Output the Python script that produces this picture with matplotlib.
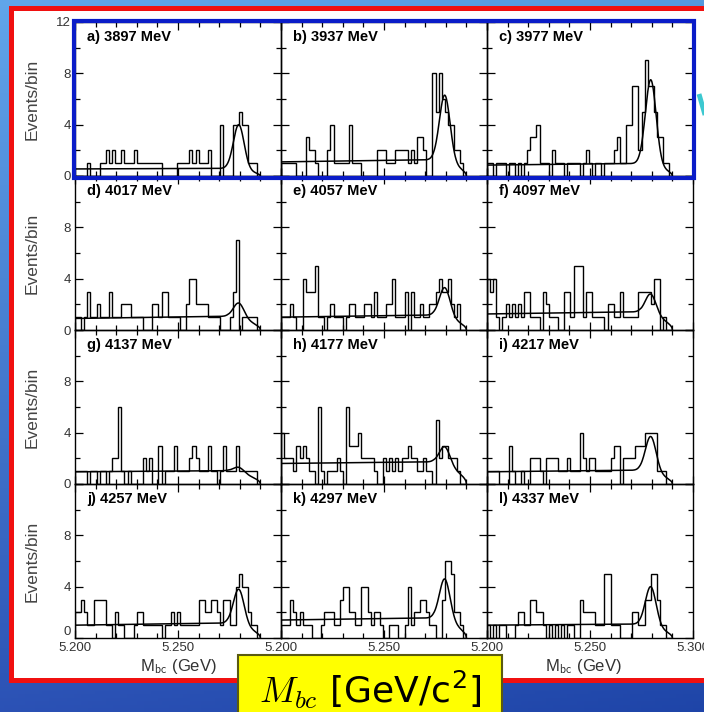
import numpy as np
import matplotlib
matplotlib.use('Agg')
import matplotlib.pyplot as plt
from matplotlib.patches import Rectangle

plt.rcParams['mathtext.fontset'] = 'cm'

W, H = 704, 712

letters = list('abcdefghijkl')
energies = [3897, 3937, 3977, 4017, 4057, 4097, 4137, 4177, 4217, 4257, 4297, 4337]

# 60 bins of 1.5 MeV from 5.200 to 5.290 GeV
counts_a = [0,0,0,0,1,0,0,0,1,1, 2,1,2,1,1,2,1,1,1,2, 1,1,1,1,1,1,1,1,0,0, 0,0,0,1,1,1,1,2,1,2, 1,1,1,2,0,0,0,4,0,0, 0,4,4,5,4,4,1,1,1,0]
counts_b = [1,1,1,1,1,0,0,0,3,2, 2,1,0,0,0,2,4,1,1,1, 1,1,4,1,1,1,0,0,0,0, 0,2,2,2,1,1,1,2,2,2, 2,1,2,1,3,3,2,0,0,8, 5,8,6,5,4,4,2,2,1,0]
counts_c = [1,1,0,1,1,1,0,1,1,0, 1,0,1,2,3,3,4,1,1,1, 0,2,1,1,1,0,1,1,1,1, 0,1,2,1,0,1,1,0,1,1, 1,2,3,1,1,4,4,7,7,2, 5,9,7,7,5,3,3,1,1,0]
counts_d = [1,1,0,1,3,1,1,2,1,1, 1,3,1,1,1,2,2,2,1,1, 1,1,0,0,0,2,2,1,3,3, 1,1,1,1,0,0,2,4,4,2, 2,2,2,1,1,1,1,0,0,0, 1,3,7,0,1,1,1,1,1,0]
counts_e = [1,1,1,2,1,0,0,4,3,3, 3,5,1,1,0,1,2,1,1,1, 0,1,2,2,1,1,1,2,2,1, 3,1,1,1,2,2,4,1,1,1, 3,0,3,1,1,2,1,1,2,2, 3,4,3,3,4,2,1,2,0,0]
counts_f = [4,3,4,1,0,1,2,1,2,1, 2,1,3,3,1,1,1,0,3,2, 1,1,1,0,0,3,3,1,5,5, 5,1,3,3,1,1,1,1,0,2, 2,1,1,3,1,1,1,1,1,3, 3,3,3,2,4,4,0,1,0,0]
counts_g = [1,1,1,1,0,1,1,0,1,1, 0,1,2,2,6,1,0,1,0,0, 0,0,2,1,2,0,0,3,0,1, 1,1,3,1,1,1,1,2,3,2, 1,1,1,3,1,1,0,1,3,1, 1,1,3,1,1,1,1,1,1,0]
counts_h = [4,2,2,2,1,3,2,3,2,1, 1,0,6,1,0,1,1,1,2,1, 0,6,3,3,3,4,2,2,2,2, 1,0,0,2,1,2,1,2,1,2, 2,3,2,2,1,1,2,1,1,0, 5,2,3,3,2,2,2,1,0,0]
counts_i = [1,1,1,1,0,0,0,3,1,0, 0,1,0,0,2,2,2,1,0,2, 2,2,2,1,1,1,2,1,1,1, 4,2,1,2,2,1,1,1,1,1, 2,3,3,0,2,2,2,2,3,3, 3,4,4,4,4,1,1,1,0,0]
counts_j = [2,2,3,2,1,1,3,3,3,3, 1,1,0,2,1,1,0,0,0,1, 2,2,1,1,1,1,1,1,0,1, 1,2,1,2,1,1,1,1,1,1, 3,3,2,2,3,3,2,1,3,3, 1,1,4,5,4,4,2,1,1,0]
counts_k = [1,1,1,3,2,1,2,1,1,1, 0,0,0,1,2,2,2,1,1,3, 4,4,2,2,1,1,4,4,2,1, 2,2,1,0,0,1,1,1,0,0, 1,4,1,2,2,3,3,2,1,1, 0,0,3,6,6,5,2,2,1,0]
counts_l = [1,0,1,0,1,1,0,0,0,1, 2,2,1,1,3,3,2,2,1,0, 1,0,1,0,1,0,1,1,0,0, 3,2,2,2,2,1,1,1,5,5, 1,1,1,0,0,0,0,2,2,1, 1,3,3,5,5,3,1,1,0,0]
counts = [counts_a, counts_b, counts_c, counts_d, counts_e, counts_f,
          counts_g, counts_h, counts_i, counts_j, counts_k, counts_l]

# fit: background level at left, its rise, peak top
bkg_level = [0.55, 1.1, 0.85, 0.9, 1.0, 1.25, 0.95, 1.6, 0.95, 1.0, 1.4, 1.0]
bkg_rise = [0.05, 0.2, 0.15, 0.2, 0.2, 0.2, 0.1, 0.15, 0.15, 0.2, 0.2, 0.1]
peak_top = [4.0, 6.3, 7.5, 2.1, 3.3, 2.8, 1.3, 2.9, 3.7, 3.8, 4.6, 4.0]

E_beam = 5.29
m_b = 5.2795
sigma = 0.0026


def fit_curve(x, level, rise, top):
    def bkg(v):
        u = np.clip(1 - (v / E_beam) ** 2, 0, None)
        u0 = 1 - (5.274 / E_beam) ** 2
        return (level + rise * (v - 5.2) / 0.09) * np.minimum(1, np.sqrt(u / u0))
    amp = top - bkg(m_b)
    return bkg(x) + amp * np.exp(-0.5 * ((x - m_b) / sigma) ** 2)


fig = plt.figure(figsize=(W / 100, H / 100), dpi=100)


def px_axes(left, top, w, h, **kw):
    return fig.add_axes([left / W, 1 - (top + h) / H, w / W, h / H], **kw)


# slide background
bg = px_axes(0, 0, W, H)
bg.set_xlim(0, W)
bg.set_ylim(H, 0)
bg.axis('off')
yy, xx = np.mgrid[0:1:200j, 0:1:200j]
c_top = np.array([0.33, 0.60, 0.87])
c_bot = np.array([0.12, 0.27, 0.66])
img = c_top * (1 - yy)[..., None] + c_bot * yy[..., None]
img = img + 0.05 * (1 - xx)[..., None]
bg.imshow(np.clip(img, 0, 1), extent=[0, W, H, 0], aspect='auto', zorder=0)
bg.add_patch(Rectangle((10.5, 7.5), 760, 672, fc='white', ec='#f01010', lw=3.6, zorder=1))

edges = np.linspace(5.200, 5.290, 61)
xf = np.linspace(5.200, 5.290, 400)
tick_color = '#333333'

for k in range(12):
    r, c = divmod(k, 3)
    ax = px_axes(75 + 206 * c, 22 + 154 * r, 206, 154)
    ax.set_facecolor('none')
    ax.stairs(counts[k], edges, color='black', lw=1.0)
    ax.plot(xf, fit_curve(xf, bkg_level[k], bkg_rise[k], peak_top[k]), color='black', lw=1.1)
    ax.set_xlim(5.2, 5.3)
    ax.set_ylim(0, 12)
    ax.set_xticks([5.2, 5.25, 5.3])
    ax.set_xticks(np.arange(5.2, 5.3001, 0.01), minor=True)
    ax.set_yticks([0, 4, 8, 12])
    ax.set_yticks([2, 6, 10], minor=True)
    ax.tick_params(which='both', direction='in', top=True, right=True,
                   labelsize=9.5, labelcolor=tick_color, pad=3)
    ax.tick_params(which='major', length=6, width=0.9)
    ax.tick_params(which='minor', length=3.5, width=0.9)
    for s in ax.spines.values():
        s.set_linewidth(1.0)
    if c == 0:
        ylabs = ax.set_yticklabels(['0', '4', '8', '12' if r == 0 else ''], family='Liberation Sans')
        if r == 3:
            ylabs[0].set_va('bottom')
        ax.set_ylabel('Events/bin', fontsize=12.5, color='#444444', family='Liberation Sans')
        ax.yaxis.set_label_coords(-0.17, 0.5)
    else:
        ax.set_yticklabels([])
    if r == 3:
        ax.set_xticklabels(['5.200', '5.250', '5.300' if c == 2 else ''], family='Liberation Sans')
    else:
        ax.set_xticklabels([])
    ax.text(0.06, 0.90, f'{letters[k]}) {energies[k]} MeV', transform=ax.transAxes,
            fontsize=10.5, fontweight='bold', family='Liberation Sans', va='center', ha='left')

for xc in (178, 583):
    fig.text(xc / W, 1 - 666 / H, r'M$_\mathsf{bc}$ (GeV)', fontsize=12, color='#333333',
             family='Liberation Sans', ha='center', va='center')

# overlay: highlight box, yellow label, slide glyph fragment at the right edge
top = px_axes(0, 0, W, H, zorder=5)
top.set_xlim(0, W)
top.set_ylim(H, 0)
top.axis('off')
top.set_facecolor('none')
top.add_patch(Rectangle((73.5, 20.5), 620, 157, fc='none', ec='#0a1cc8', lw=3.0))
top.add_patch(Rectangle((238, 655), 264, 70, fc='#ffff00', ec='#5a5a10', lw=1.5))
top.text(370, 690, r'$M_{bc}$ [GeV/c$\mathregular{^2}$]', fontsize=26, family='DejaVu Sans',
         ha='center', va='center', color='black')
top.plot([699, 707], [94, 122], color='#3cc8d0', lw=3.5, solid_capstyle='butt')

fig.savefig('out.png', dpi=100)
